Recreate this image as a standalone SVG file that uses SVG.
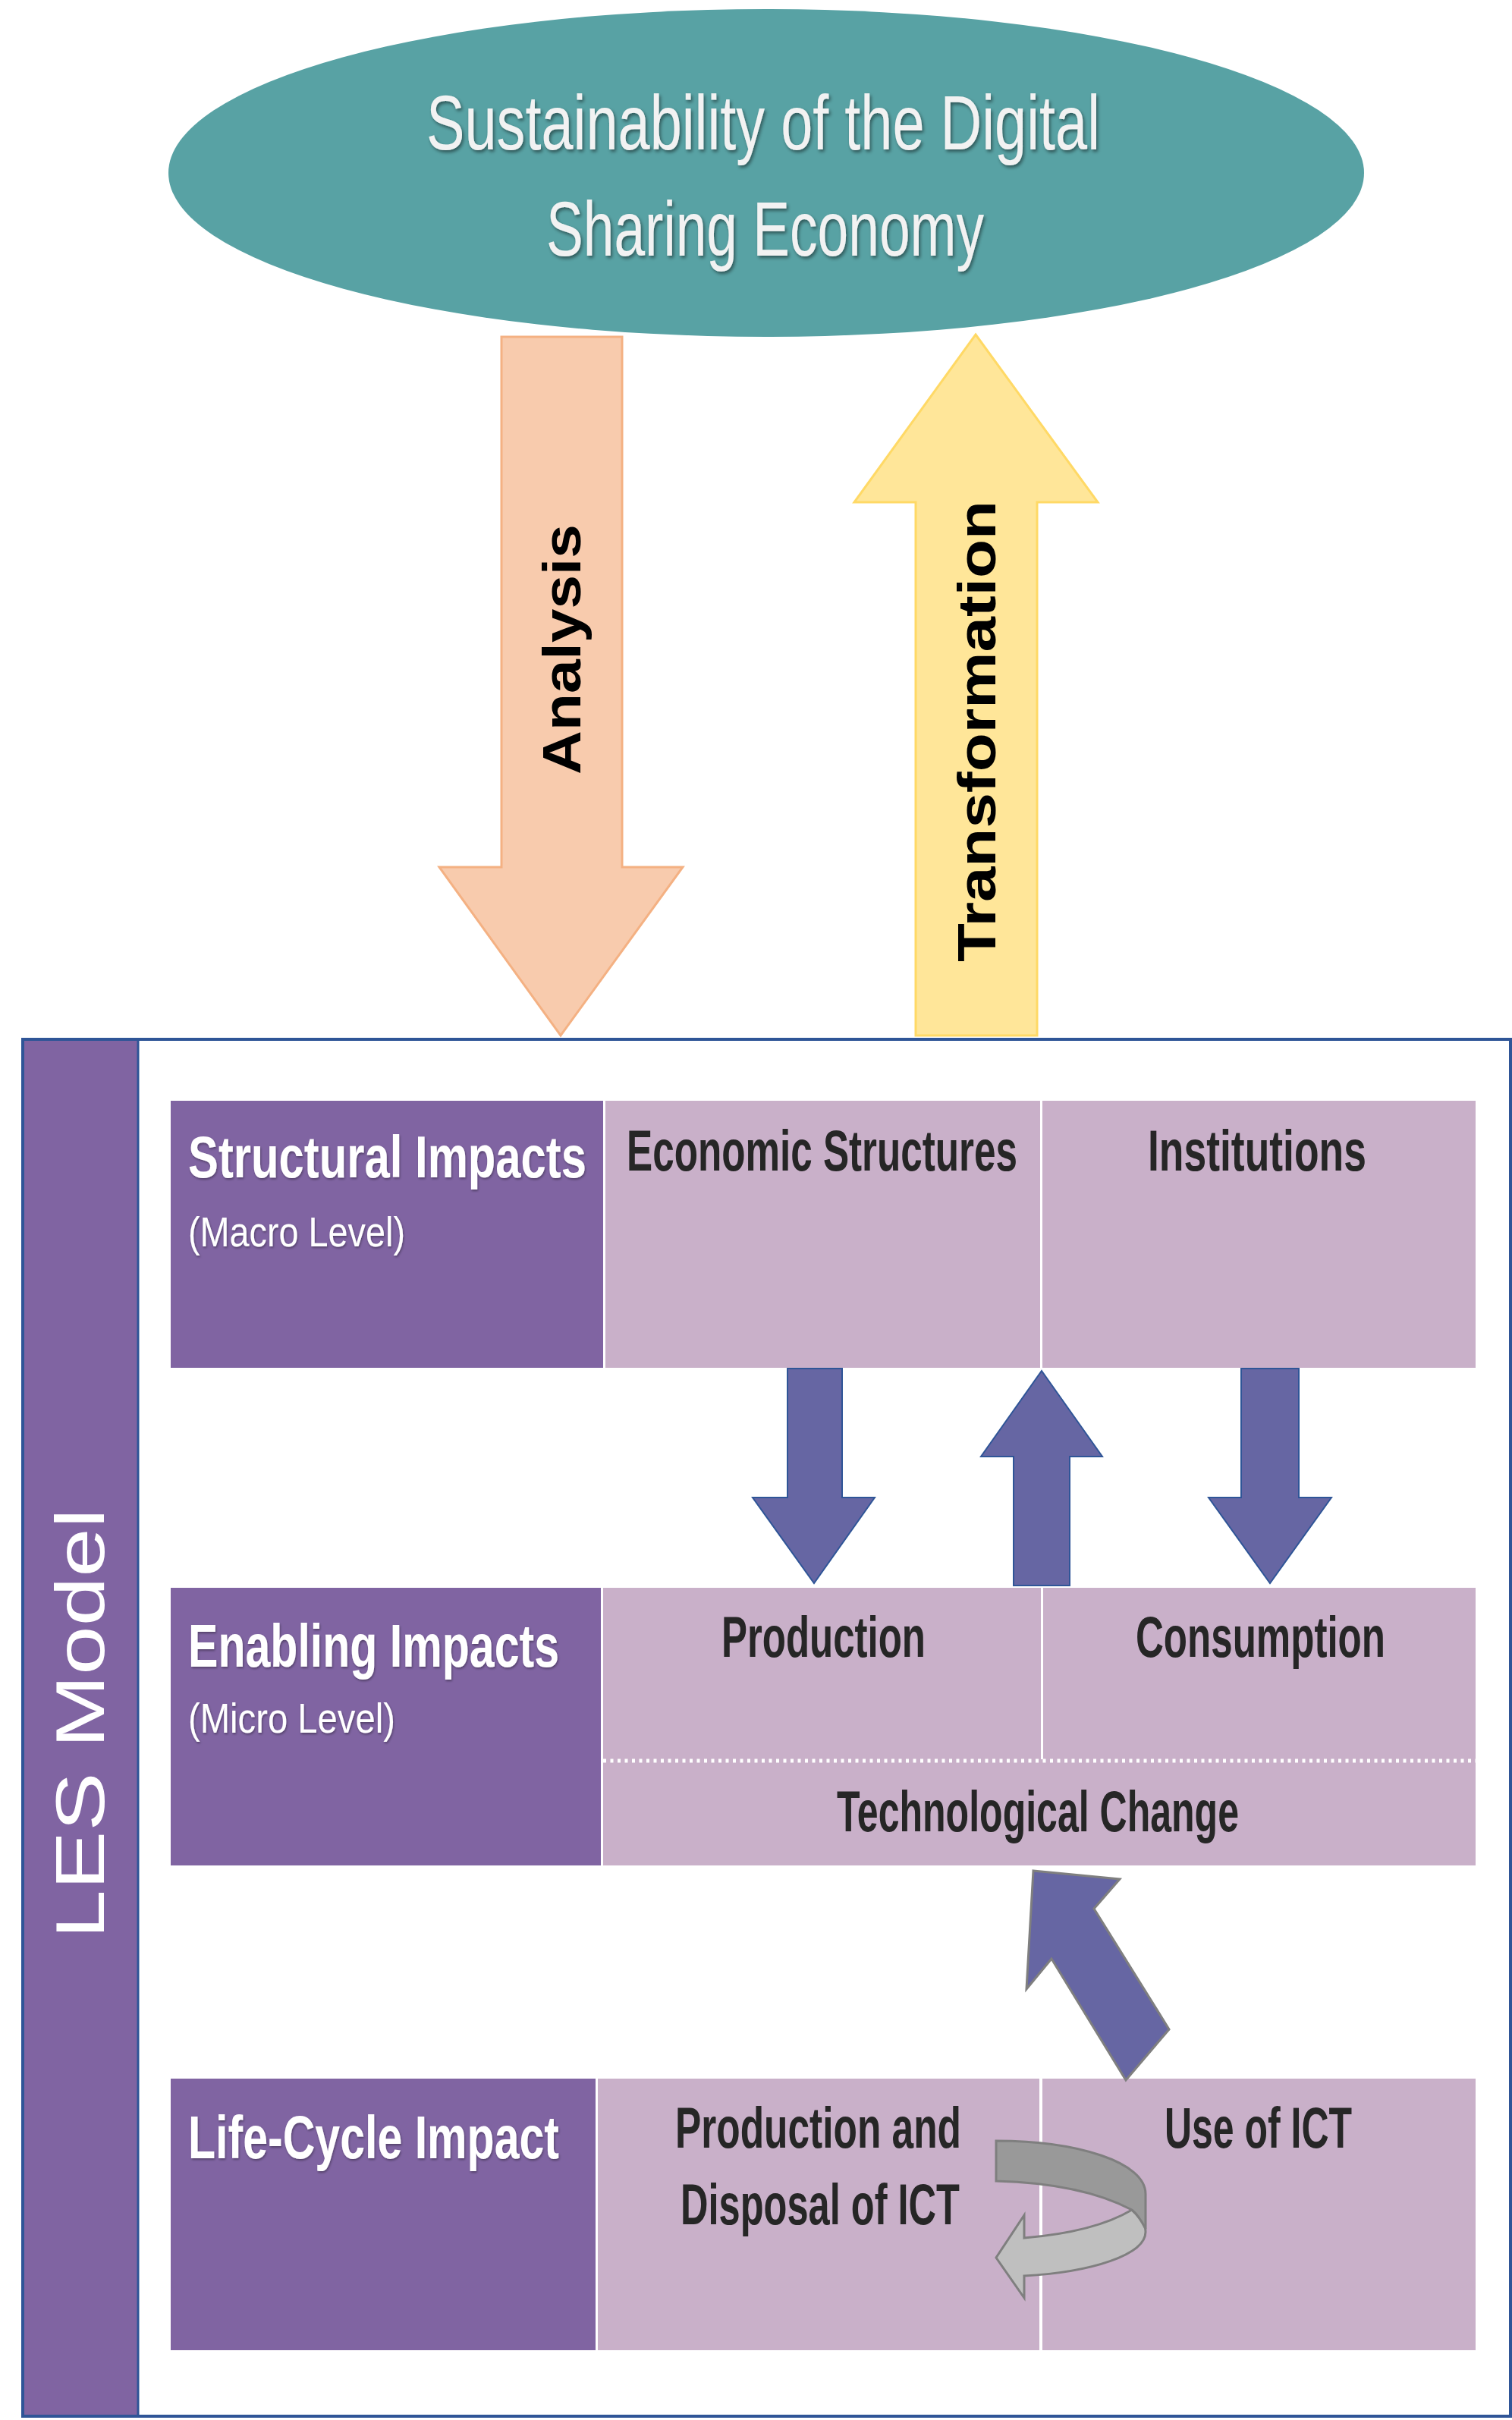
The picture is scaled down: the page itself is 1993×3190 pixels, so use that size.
<svg xmlns="http://www.w3.org/2000/svg" width="1993" height="3190" viewBox="0 0 1993 3190">
<style>
.hdr{font-family:"Liberation Sans",Arial,sans-serif;font-weight:bold;fill:#ffffff}
.sub{font-family:"Liberation Sans",Arial,sans-serif;fill:#ffffff}
.cell{font-family:"Liberation Sans",Arial,sans-serif;font-weight:bold;fill:#262626}
.vert{font-family:"Liberation Sans",Arial,sans-serif;font-weight:bold;fill:#000000}
.purple{fill:#8064a2}
.pink{fill:#c9b0c9}
.blk{fill:#6666a3;stroke:#2f5597;stroke-width:2}
</style>
<defs>
<filter id="sh" x="-10%" y="-10%" width="120%" height="130%">
<feDropShadow dx="2" dy="3" stdDeviation="2" flood-color="#000" flood-opacity="0.45"/>
</filter>
<filter id="sh2" x="-10%" y="-10%" width="120%" height="130%">
<feDropShadow dx="1" dy="2" stdDeviation="1.5" flood-color="#000" flood-opacity="0.35"/>
</filter>
</defs>
<rect width="1993" height="3190" fill="#ffffff"/>

<g id="sustainability">
<ellipse cx="1010" cy="228" rx="788" ry="216" fill="#58a2a4"/>
<g filter="url(#sh)" fill="#f2f2f2" font-family="Liberation Sans, Arial, sans-serif" font-size="102">
<text x="562" y="197" textLength="888" lengthAdjust="spacingAndGlyphs">Sustainability of the Digital</text>
<text x="720" y="337" textLength="577" lengthAdjust="spacingAndGlyphs">Sharing Economy</text>
</g>
</g>

<g id="les-frame">
<rect x="30" y="1370" width="1961" height="1815" fill="#ffffff" stroke="#2f5597" stroke-width="4"/>
<rect x="32" y="1372" width="150" height="1811" class="purple"/>
<line x1="182" y1="1372" x2="182" y2="3183" stroke="#2f5597" stroke-width="3"/>
<text class="sub" transform="translate(137,2272) rotate(-90)" font-size="90" text-anchor="middle" textLength="567" lengthAdjust="spacingAndGlyphs">LES Model</text>
</g>

<g id="structural">
<rect x="225" y="1451" width="570" height="352" class="purple"/>
<text class="hdr" filter="url(#sh2)" x="248" y="1552" font-size="78" textLength="525" lengthAdjust="spacingAndGlyphs">Structural Impacts</text>
<text class="sub" filter="url(#sh2)" x="248" y="1643" font-size="56" textLength="286" lengthAdjust="spacingAndGlyphs">(Macro Level)</text>
</g>
<g id="economic-structures">
<rect x="798" y="1451" width="573" height="352" class="pink"/>
<text class="cell" x="826" y="1543" font-size="76" textLength="515" lengthAdjust="spacingAndGlyphs">Economic Structures</text>
</g>
<g id="institutions">
<rect x="1374" y="1451" width="571" height="352" class="pink"/>
<text class="cell" x="1513" y="1543" font-size="76" textLength="288" lengthAdjust="spacingAndGlyphs">Institutions</text>
</g>

<g id="enabling">
<rect x="225" y="2093" width="567" height="366" class="purple"/>
<text class="hdr" filter="url(#sh2)" x="248" y="2197" font-size="80" textLength="489" lengthAdjust="spacingAndGlyphs">Enabling Impacts</text>
<text class="sub" filter="url(#sh2)" x="248" y="2284" font-size="56" textLength="273" lengthAdjust="spacingAndGlyphs">(Micro Level)</text>
</g>
<g id="production">
<rect x="795" y="2093" width="577" height="226" class="pink"/>
<text class="cell" x="951" y="2184" font-size="76" textLength="269" lengthAdjust="spacingAndGlyphs">Production</text>
</g>
<g id="consumption">
<rect x="1375" y="2093" width="570" height="226" class="pink"/>
<text class="cell" x="1497" y="2184" font-size="76" textLength="329" lengthAdjust="spacingAndGlyphs">Consumption</text>
</g>
<g id="technological-change">
<rect x="795" y="2319" width="1150" height="140" class="pink"/>
<line x1="795" y1="2321" x2="1945" y2="2321" stroke="#ffffff" stroke-width="5" stroke-dasharray="4 5.5"/>
<text class="cell" x="1103" y="2414" font-size="76" textLength="530" lengthAdjust="spacingAndGlyphs">Technological Change</text>
</g>

<g id="life-cycle">
<rect x="225" y="2740" width="560" height="358" class="purple"/>
<text class="hdr" filter="url(#sh2)" x="248" y="2845" font-size="80" textLength="489" lengthAdjust="spacingAndGlyphs">Life-Cycle Impact</text>
</g>
<g id="production-disposal">
<rect x="788" y="2740" width="582" height="358" class="pink"/>
<text class="cell" x="890" y="2831" font-size="76" textLength="377" lengthAdjust="spacingAndGlyphs">Production and</text>
<text class="cell" x="897" y="2932" font-size="76" textLength="368" lengthAdjust="spacingAndGlyphs">Disposal of ICT</text>
</g>
<g id="use-of-ict">
<rect x="1374" y="2740" width="571" height="358" class="pink"/>
<text class="cell" x="1535" y="2831" font-size="76" textLength="247" lengthAdjust="spacingAndGlyphs">Use of ICT</text>
</g>

<g id="connectors">
<g id="analysis-arrow">
<polygon points="661,444 820,444 820,1143 900,1143 739,1365 579,1143 661,1143" fill="#f8cbad" stroke="#f4b183" stroke-width="3"/>
<text class="vert" transform="translate(765,856) rotate(-90)" font-size="70" text-anchor="middle" textLength="330" lengthAdjust="spacingAndGlyphs">Analysis</text>
</g>
<g id="transformation-arrow">
<polygon points="1286,441 1447,662 1367,662 1367,1365 1207,1365 1207,662 1126,662" fill="#ffe699" stroke="#ffd966" stroke-width="3"/>
<text class="vert" transform="translate(1312,964) rotate(-90)" font-size="70" text-anchor="middle" textLength="608" lengthAdjust="spacingAndGlyphs">Transformation</text>
</g>
<polygon class="blk" points="1038,1804 1110,1804 1110,1974 1153,1974 1073,2087 992,1974 1038,1974"/>
<polygon class="blk" points="1373,1807 1453,1920 1410,1920 1410,2090 1336,2090 1336,1920 1293,1920"/>
<polygon class="blk" points="1636,1804 1712,1804 1712,1974 1755,1974 1674,2087 1593,1974 1636,1974"/>
<polygon points="1362,2466 1476,2477 1442,2516 1541,2675 1484,2742 1386,2582 1353,2622" fill="#6666a3" stroke="#7f7f7f" stroke-width="3" stroke-linejoin="miter"/>
<g id="cycle-arrow" stroke="#7f7f7f" stroke-width="3" stroke-linejoin="miter">
<path d="M1492,2913 C1500,2920 1510,2928 1510,2942 C1510,2972 1440,2995 1350,3000 L1350,3029 L1313,2976 L1350,2920 L1350,2950 C1410,2945 1460,2932 1492,2913 Z" fill="#bfbfbf"/>
<path d="M1313,2822 C1420,2822 1510,2850 1510,2892 L1510,2938 C1505,2928 1500,2920 1492,2913 C1450,2891 1390,2877 1313,2875 Z" fill="#999999"/>
</g>
</g>
</svg>
